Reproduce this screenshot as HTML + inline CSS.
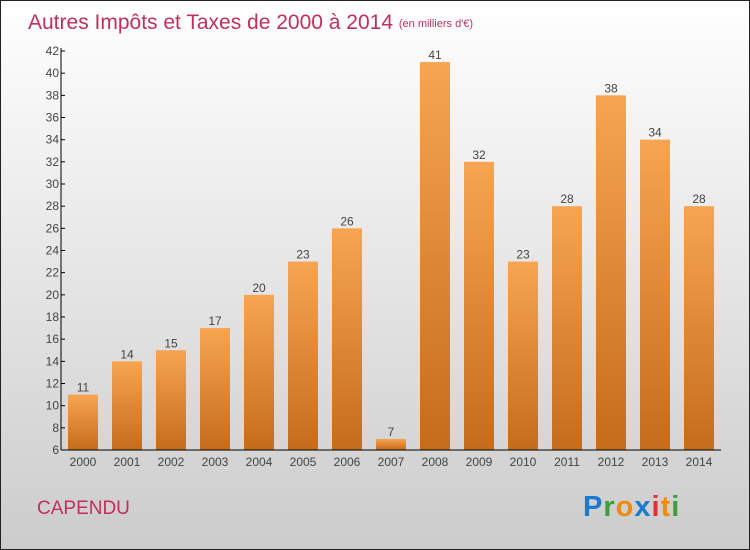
<!DOCTYPE html>
<html><head><meta charset="utf-8"><style>
html,body{margin:0;padding:0}
body{width:750px;height:550px;overflow:hidden;font-family:"Liberation Sans",sans-serif}
#wrap{position:absolute;left:0;top:0;width:748px;height:548px;border:1px solid #222;background:linear-gradient(#fff,#ccc)}
</style></head><body>
<div id="wrap">
<svg id="chart" width="750" height="550" style="position:absolute;left:-1px;top:-1px">
<defs><linearGradient id="bg" x1="0" y1="0" x2="0" y2="1"><stop offset="0" stop-color="#f7a552"/><stop offset="1" stop-color="#c56c1a"/></linearGradient></defs>
<text x="28" y="29" font-size="21" fill="#c0305a">Autres Impôts et Taxes de 2000 à 2014 <tspan font-size="11" dy="-2">(en milliers d'€)</tspan></text>
<text x="37" y="514" font-size="19" fill="#c0305a">CAPENDU</text>
<g font-size="29" font-weight="bold" font-family="'Liberation Sans',sans-serif">
<text x="583" y="516" letter-spacing="1"><tspan fill="#1a7ad0">P</tspan><tspan fill="#3aa03a">r</tspan><tspan fill="#f08a10">o</tspan><tspan fill="#1a7ad0">x</tspan><tspan fill="#e03030">i</tspan><tspan fill="#f08a10">t</tspan><tspan fill="#3aa03a">i</tspan></text>
</g>
<g id="plot"></g>
</svg>
</div>
<script>
const categories=["2000","2001","2002","2003","2004","2005","2006","2007","2008","2009","2010","2011","2012","2013","2014"];
const values=[11,14,15,17,20,23,26,7,41,32,23,28,38,34,28];
const yTicks=[6,8,10,12,14,16,18,20,22,24,26,28,30,32,34,36,38,40,42];
const X0=61,X1=721,Y0=450,Y1=51,YMIN=6,YMAX=42;
const slot=(X1-X0)/categories.length;
function y(v){return Y0-(v-YMIN)*(Y0-Y1)/(YMAX-YMIN);}
function x(i){return X0+slot*(i+0.5);}
const g=document.getElementById('plot');const NS='http://www.w3.org/2000/svg';
function el(t,a,txt){const e=document.createElementNS(NS,t);for(const k in a)e.setAttribute(k,a[k]);if(txt!=null)e.textContent=txt;g.appendChild(e);return e;}
values.forEach((v,i)=>{
 const r=el('rect',{x:x(i)-15,y:y(v),width:30,height:Y0-y(v),fill:'url(#bg)'});
 
 
 const t=el('text',{x:x(i),y:y(v)-3,'font-size':12,fill:'#444','text-anchor':'middle'},String(v));
 
 
 const c=el('text',{x:x(i),y:466,'font-size':12,fill:'#444','text-anchor':'middle'},categories[i]);
 
 
});
yTicks.forEach(v=>{
 const l=el('line',{x1:X0,x2:X0+4,y1:y(v),y2:y(v),stroke:'#000'});
 
 
 const t=el('text',{x:X0-2,y:y(v)+4,'font-size':12,fill:'#444','text-anchor':'end'},String(v));
 
 
});
const ya=el('line',{x1:X0,x2:X0,y1:Y1-3,y2:Y0,stroke:'#000'});


const xa=el('line',{x1:X0,x2:X1,y1:Y0,y2:Y0,stroke:'#000'});


</script>
</body></html>
